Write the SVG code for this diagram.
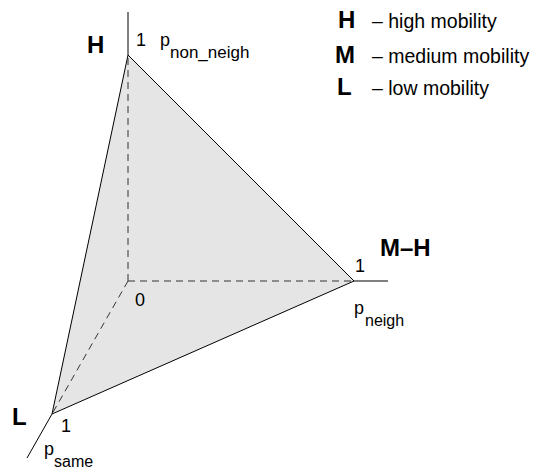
<svg xmlns="http://www.w3.org/2000/svg" width="535" height="470" viewBox="0 0 535 470">
<style>
.t{font-family:"Liberation Sans",Arial,sans-serif;fill:#000}
.n{font-size:18px}
.s{font-size:16px}
.b{font-size:24px;font-weight:bold}
.lg{font-size:19.5px}
.ax{stroke:#000;stroke-width:1;fill:none}
.da{stroke:#333;stroke-width:1;fill:none;stroke-dasharray:7 5}
</style>
<rect width="535" height="470" fill="#fff"/>
<g id="face">
<polygon points="128,55 354,281 52,414" fill="#e5e5e5" stroke="#000" stroke-width="1"/>
</g>
<g id="connectors">
<line class="da" x1="128" y1="281" x2="128" y2="55"/>
<line class="da" x1="128" y1="281" x2="354" y2="281"/>
<line class="da" x1="128" y1="281" x2="52" y2="414"/>
<line class="ax" x1="128" y1="55" x2="128" y2="12"/>
<line class="ax" x1="354" y1="281" x2="388" y2="281"/>
<line class="ax" x1="52" y1="414" x2="27" y2="458"/>
</g>
<g id="node-H">
<text class="t b" x="87" y="53">H</text>
<text class="t n" x="136" y="46">1</text>
<text class="t n" x="160" y="46">p<tspan x="170" y="58" style="font-size:17px">non_neigh</tspan></text>
</g>
<g id="node-MH">
<text class="t b" x="380" y="256">M–H</text>
<text class="t n" x="355" y="272">1</text>
<text class="t n" x="354" y="314">p<tspan class="s" x="365" y="326">neigh</tspan></text>
</g>
<g id="node-L">
<text class="t b" x="12" y="425">L</text>
<text class="t n" x="61" y="432">1</text>
<text class="t n" x="44" y="455">p<tspan class="s" x="54" y="467">same</tspan></text>
</g>
<g id="origin">
<text class="t n" x="135" y="306">0</text>
</g>
<g id="legend">
<text class="t b" x="338" y="28">H</text>
<text class="t lg" x="372" y="28">– high mobility</text>
<text class="t b" x="335" y="63">M</text>
<text class="t lg" x="372" y="63">– medium mobility</text>
<text class="t b" x="337" y="95">L</text>
<text class="t lg" x="372" y="95">– low mobility</text>
</g>
</svg>
